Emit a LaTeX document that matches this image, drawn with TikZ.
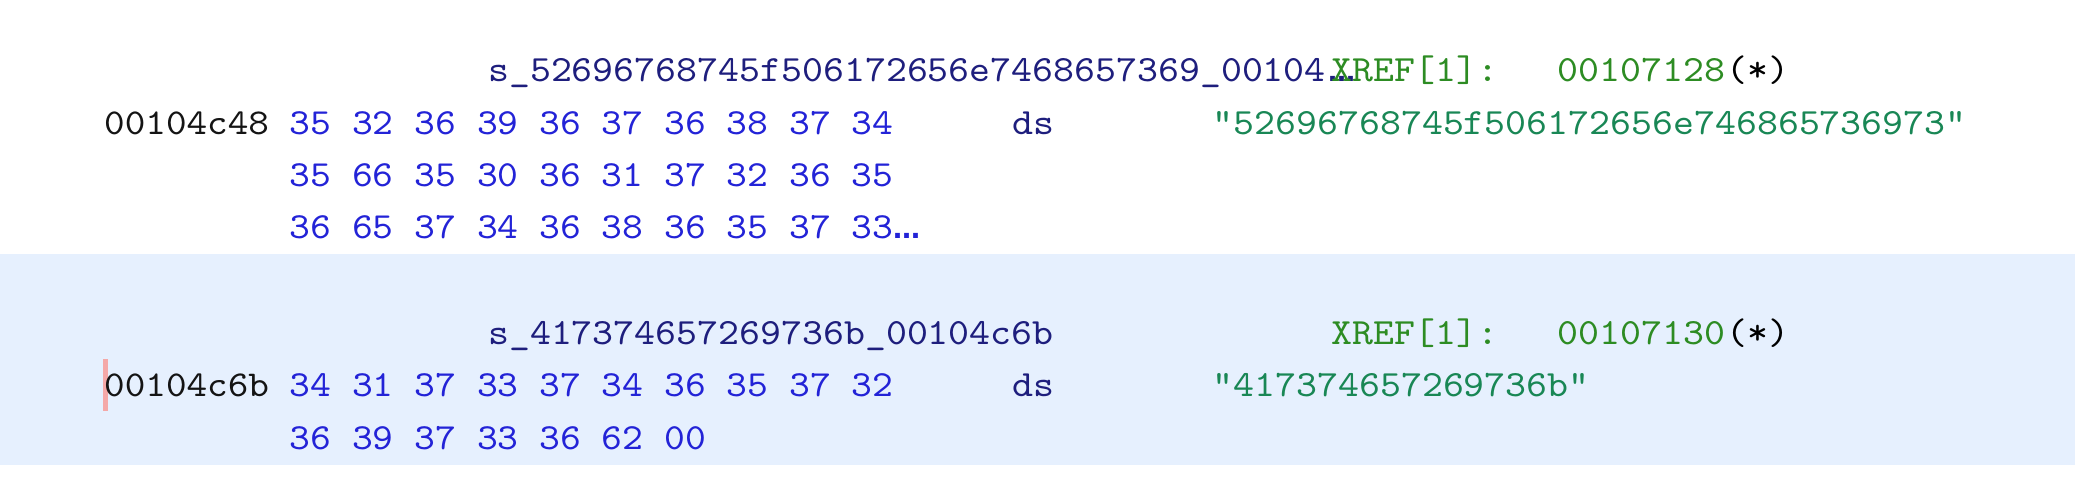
\documentclass[tikz,border=0pt]{standalone}
\usepackage{fontspec}
\newfontfamily\codefont{lmmono10-regular.otf}[FakeStretch=1.078]
\newfontfamily\dotfont{DejaVu Sans}
\definecolor{addr}{RGB}{20,20,20}
\definecolor{hexb}{RGB}{35,35,215}
\definecolor{navy}{RGB}{30,30,125}
\definecolor{strg}{RGB}{25,135,85}
\definecolor{xref}{RGB}{45,140,35}
\definecolor{band}{RGB}{230,240,254}
\definecolor{cursorc}{RGB}{244,168,168}
\tikzset{
  txt/.style={anchor=base west, inner sep=0pt, font=\codefont\fontsize{37pt}{40pt}\selectfont},
  addrtxt/.style={txt, text=addr, font=\codefont\fontsize{36.4pt}{40pt}\selectfont},
  bytetxt/.style={txt, text=hexb, font=\codefont\fontsize{36.8pt}{40pt}\selectfont},
  labeltxt/.style={txt, text=navy},
  mnemtxt/.style={txt, text=navy},
  strtxt/.style={txt, text=strg},
  xreftxt/.style={txt, text=xref},
  startxt/.style={txt, text=black},
  ellip/.style={anchor=base west, inner sep=0pt, font=\dotfont\bfseries\fontsize{27pt}{30pt}\selectfont},
}
\begin{document}
\begin{tikzpicture}[x=1pt,y=-1pt]
\useasboundingbox (0,0) rectangle (2075,491);
% selection band of the second entry
\fill[band] (0,254) rectangle (2075,465);
% caret
\fill[cursorc] (102.7,358.6) rectangle (107.7,411);

% ---- first entry ----
\node[labeltxt] (lab1) at (488,81.7) {s\_52696768745f506172656e7468657369\_00104};
\node[ellip, text=navy] (lab1dots) at (1328,81.7) {…};
\node[xreftxt] (xr1) at (1331,81.7) {XREF[1]:};
\node[xreftxt] (xa1) at (1557.6,81.7) {00107128};
\node[startxt] (st1) at (1726,81.7) {(*)};

\node[addrtxt] (ad1) at (104,134) {00104c48};
\node[bytetxt] (b1a) at (289.4,134) {35 32 36 39 36 37 36 38 37 34};
\node[mnemtxt] (ds1) at (1012,134) {ds};
\node[strtxt] (s1) at (1212.5,134) {"52696768745f506172656e746865736973"};
\node[bytetxt] (b1b) at (289.4,186.3) {35 66 35 30 36 31 37 32 36 35};
\node[bytetxt] (b1c) at (289.4,238.6) {36 65 37 34 36 38 36 35 37 33};
\node[ellip, text=hexb] (b1dots) at (893,238.6) {…};

% ---- second entry ----
\node[labeltxt] (lab2) at (488,344.6) {s\_417374657269736b\_00104c6b};
\node[xreftxt] (xr2) at (1331,344.6) {XREF[1]:};
\node[xreftxt] (xa2) at (1557.6,344.6) {00107130};
\node[startxt] (st2) at (1726,344.6) {(*)};

\node[addrtxt] (ad2) at (104,396.9) {00104c6b};
\node[bytetxt] (b2a) at (289.4,396.9) {34 31 37 33 37 34 36 35 37 32};
\node[mnemtxt] (ds2) at (1012,396.9) {ds};
\node[strtxt] (s2) at (1212.5,396.9) {"417374657269736b"};
\node[bytetxt] (b2b) at (289.4,449.2) {36 39 37 33 36 62 00};
\end{tikzpicture}
\end{document}
